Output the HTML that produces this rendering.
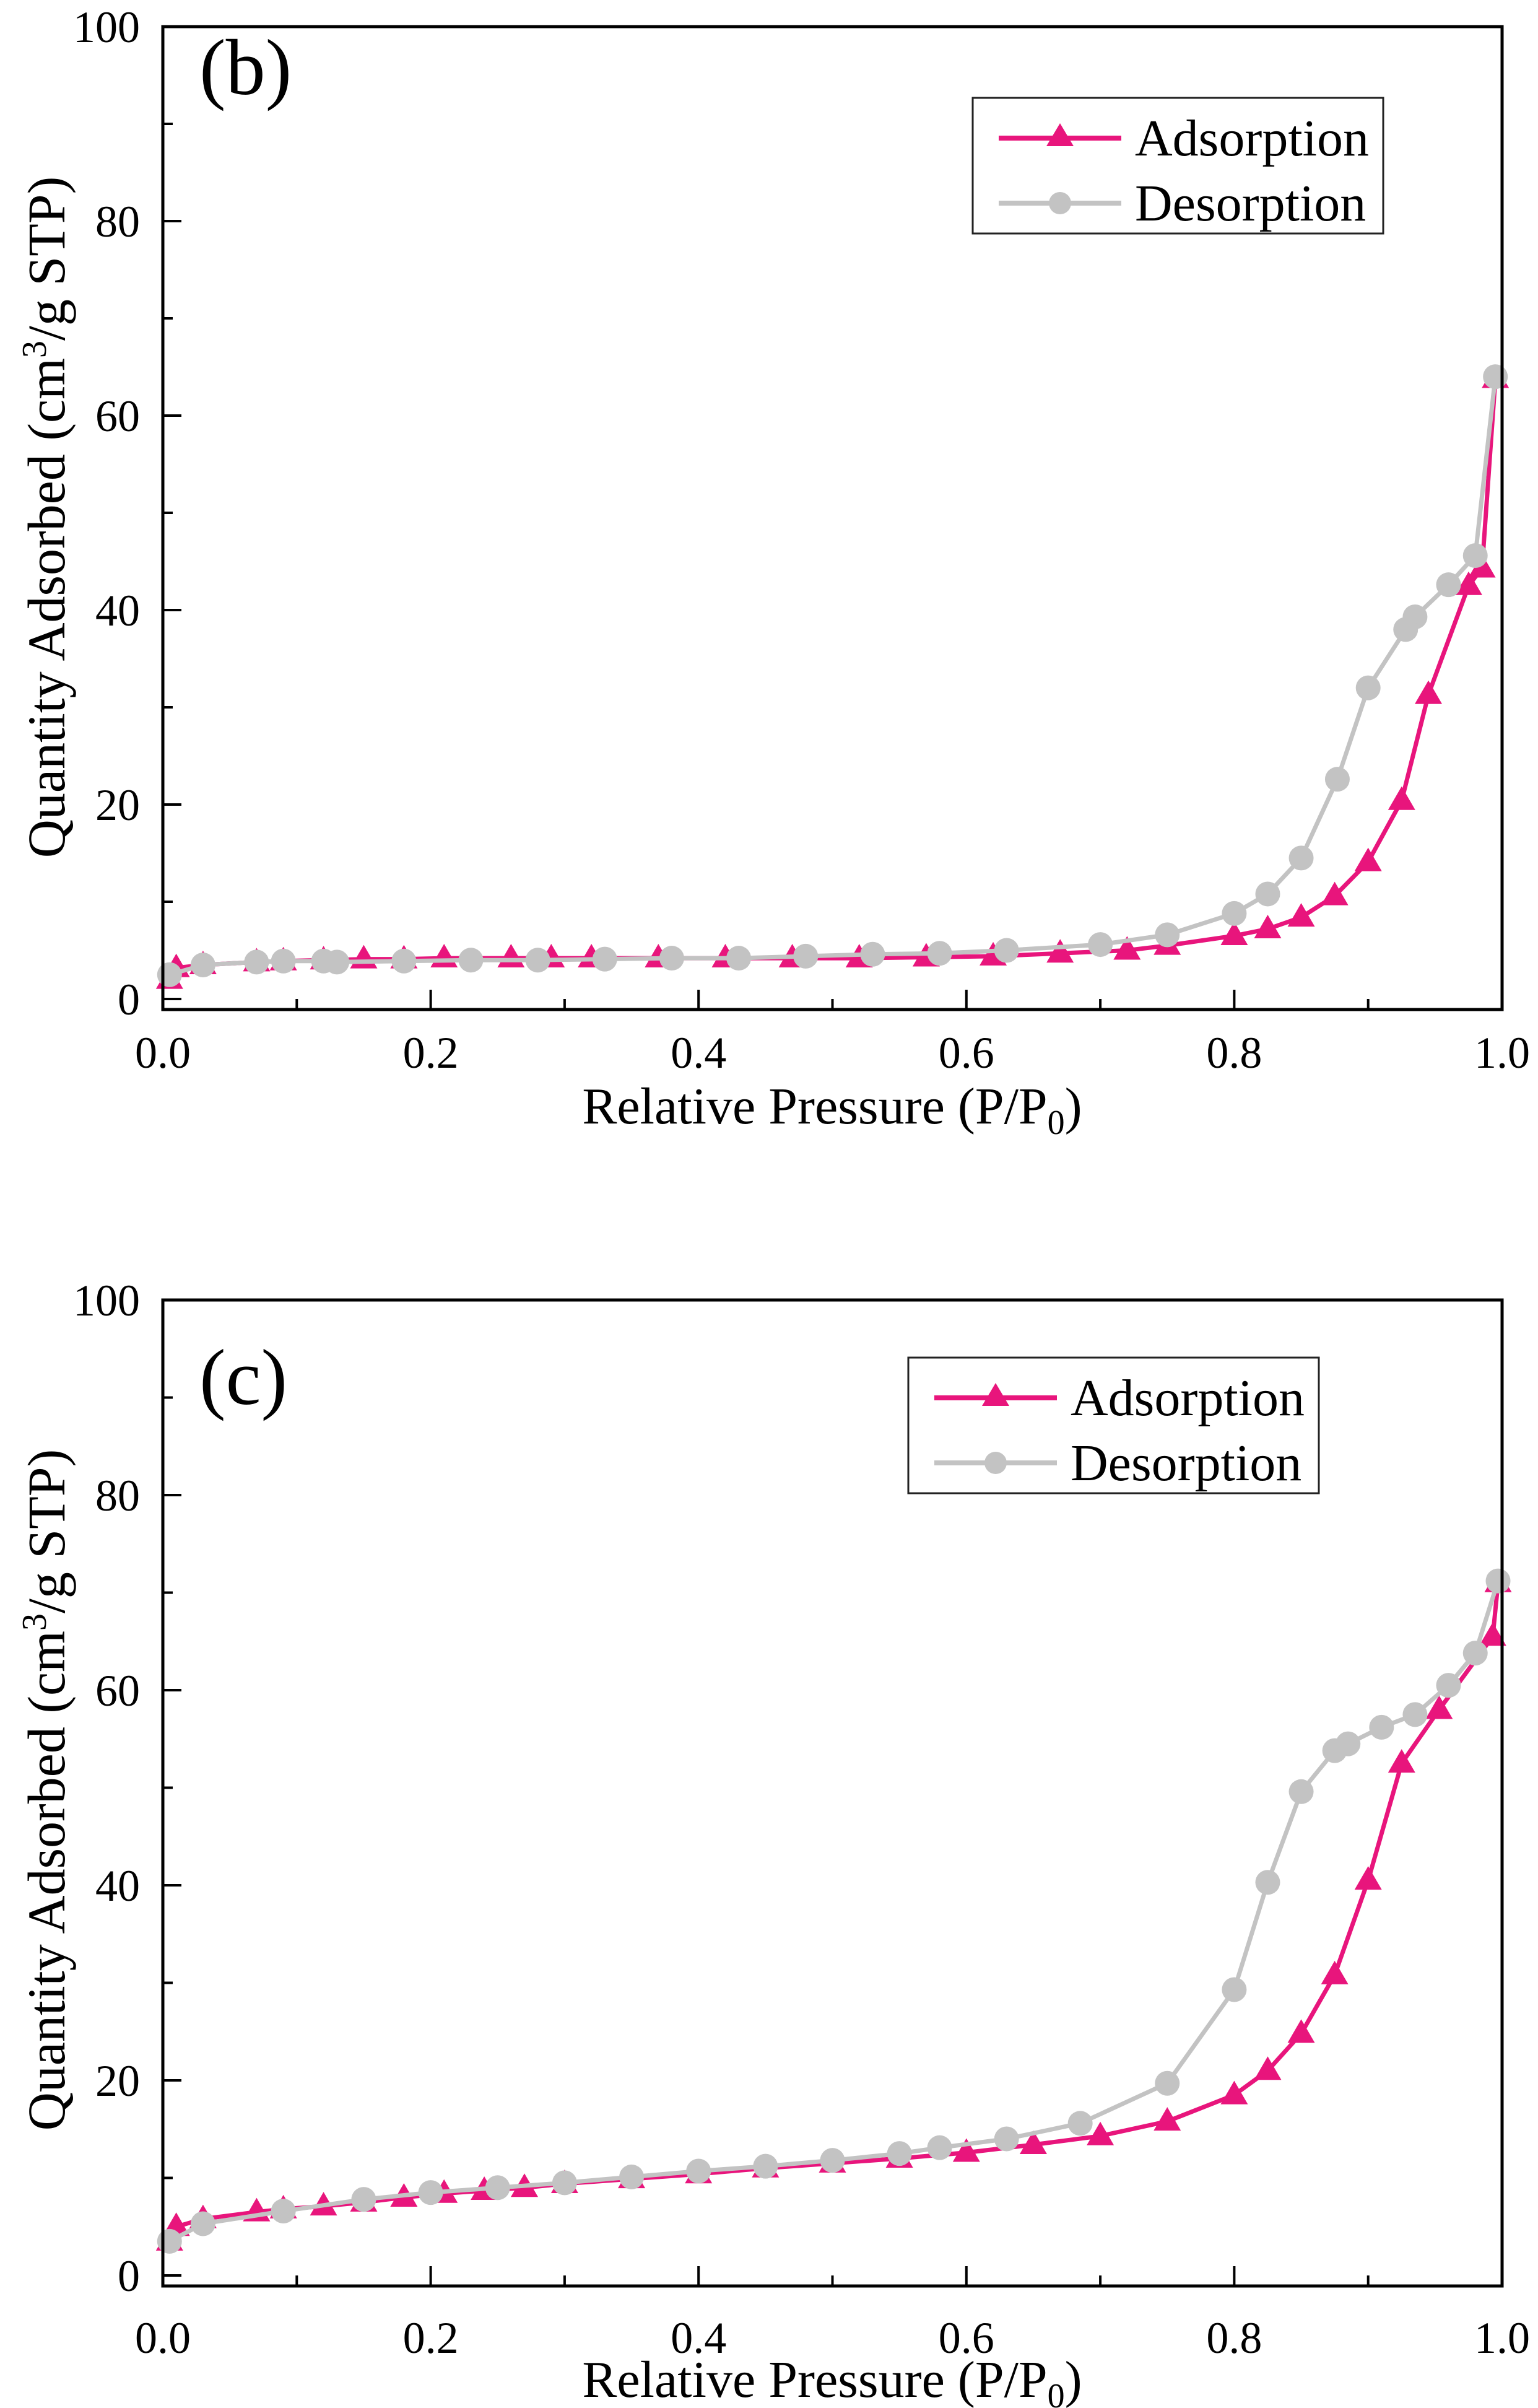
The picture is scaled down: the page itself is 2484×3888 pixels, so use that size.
<!DOCTYPE html>
<html><head><meta charset="utf-8"><style>
html,body{margin:0;padding:0;background:#fff;}
svg{display:block;font-family:"Liberation Serif",serif;}
</style></head><body>
<svg id="fig" width="2484" height="3888" viewBox="0 0 2484 3888" xmlns="http://www.w3.org/2000/svg"></svg>
<script>
// Panel (b) data
const bAdsX = [0.005,0.01,0.03,0.07,0.09,0.12,0.15,0.18,0.21,0.26,0.29,0.32,0.37,0.42,0.47,0.52,0.57,0.62,0.67,0.72,0.75,0.80,0.825,0.85,0.875,0.90,0.925,0.945,0.975,0.985,0.995];
const bAdsY = [2.0,3.2,3.5,3.8,3.9,4.0,4.1,4.1,4.2,4.2,4.2,4.2,4.2,4.2,4.2,4.2,4.3,4.4,4.7,5.0,5.5,6.5,7.2,8.4,10.6,14.1,20.4,31.3,42.5,44.3,63.8];
const bDesX = [0.995,0.98,0.96,0.935,0.928,0.90,0.877,0.85,0.825,0.80,0.75,0.70,0.63,0.58,0.53,0.48,0.43,0.38,0.33,0.28,0.23,0.18,0.13,0.12,0.09,0.07,0.03,0.005];
const bDesY = [64.0,45.6,42.6,39.3,38.0,32.0,22.6,14.5,10.8,8.8,6.6,5.6,5.0,4.7,4.6,4.4,4.2,4.2,4.1,4.0,4.0,3.9,3.8,3.9,3.9,3.8,3.5,2.5];
// Panel (c) data
const cAdsX = [0.005,0.01,0.03,0.07,0.09,0.12,0.15,0.18,0.21,0.24,0.27,0.30,0.35,0.40,0.45,0.50,0.55,0.60,0.65,0.70,0.75,0.80,0.825,0.85,0.875,0.90,0.925,0.953,0.993,0.997];
const cAdsY = [3.5,5.0,5.8,6.5,6.8,7.1,7.5,8.0,8.4,8.7,9.0,9.4,9.9,10.4,11.0,11.5,12.0,12.6,13.4,14.3,15.8,18.5,21.0,24.8,30.8,40.5,52.5,58.0,65.5,71.0];
const cDesX = [0.997,0.98,0.96,0.935,0.91,0.885,0.875,0.85,0.825,0.80,0.75,0.685,0.63,0.58,0.55,0.50,0.45,0.40,0.35,0.30,0.25,0.20,0.15,0.09,0.03,0.005];
const cDesY = [71.2,63.8,60.5,57.5,56.2,54.5,53.8,49.6,40.3,29.3,19.7,15.6,14.0,13.1,12.5,11.8,11.2,10.7,10.1,9.5,9.0,8.5,7.8,6.6,5.3,3.5];
const xTickLabels = ["0.0","0.2","0.4","0.6","0.8","1.0"];
const yTickLabels = ["0","20","40","60","80","100"];

const NS="http://www.w3.org/2000/svg";
const svg=document.getElementById('fig');
function mk(tag,attrs,parent){const e=document.createElementNS(NS,tag);for(const k in attrs)e.setAttribute(k,attrs[k]);(parent||svg).appendChild(e);return e;}
const PINK="#e8157c", GRAY="#c3c3c3";

function panel(key,label,top,y0pix,bottom,ax,ay,dx,dy,legX,legY,labY,xlabY,xtitY,ytitY){
  const L=263,R=2426;
  const g=mk('g',{});
  
  
  const sx=v=>L+v*(R-L);
  const sy=v=>y0pix-v*(y0pix-top)/100;
  function series(xs,ys,color,name,marker){
    const sg=mk('g',{},g);
    
    
    const pts=xs.map((x,i)=>sx(x).toFixed(1)+','+sy(ys[i]).toFixed(1)).join(' ');
    const pl=mk('polyline',{points:pts,fill:'none',stroke:color,'stroke-width':7,'stroke-linejoin':'round'},sg);
    
    
    xs.forEach((x,i)=>{
      const cx=sx(x),cy=sy(ys[i]);let m;
      if(marker==='tri'){m=mk('polygon',{points:`${cx},${cy-23} ${cx-22},${cy+15} ${cx+22},${cy+15}`,fill:color},sg);}
      else{m=mk('circle',{cx:cx,cy:cy,r:20,fill:color},sg);}
      
      
    });
  }
  series(ax,ay,PINK,'adsorption-series-'+key,'tri');
  series(dx,dy,GRAY,'desorption-series-'+key,'circ');
  const fr=mk('rect',{x:L,y:top,width:R-L,height:bottom-top,fill:'none',stroke:'#000','stroke-width':5},g);
  
  
  for(let i=0;i<=10;i++){
    const x=sx(i/10),len=(i%2===0)?32:17;
    const t=mk('line',{x1:x,y1:bottom,x2:x,y2:bottom-len,stroke:'#000','stroke-width':4},g);
    
    
  }
  xTickLabels.forEach((s,i)=>{
    const t=mk('text',{x:sx(i*0.2),y:xlabY,'font-size':72,'text-anchor':'middle'},g);
    t.textContent=s;
    
    
  });
  for(let i=0;i<=10;i++){
    const y=sy(i*10),len=(i%2===0)?30:16;
    const t=mk('line',{x1:L,y1:y,x2:L+len,y2:y,stroke:'#000','stroke-width':4},g);
    
    
  }
  yTickLabels.forEach((s,i)=>{
    const t=mk('text',{x:226,y:sy(i*20)+25,'font-size':72,'text-anchor':'end'},g);
    t.textContent=s;
    
    
  });
  const xt=mk('text',{x:1344,y:xtitY,'font-size':84,'text-anchor':'middle'},g);
  xt.innerHTML='Relative Pressure (P/P<tspan font-size="56" dy="17">0</tspan><tspan dy="-17">)</tspan>';
  
  
  const yt=mk('text',{x:0,y:0,'font-size':86,'text-anchor':'middle',transform:`translate(104,${ytitY}) rotate(-90)`},g);
  yt.innerHTML='Quantity Adsorbed (cm<tspan font-size="56" dy="-30">3</tspan><tspan dy="30">/g STP)</tspan>';
  
  
  const pl=mk('text',{x:322,y:labY,'font-size':128},g);
  pl.textContent=label;
  
  
  const lg=mk('g',{},g);
  
  
  mk('rect',{x:legX,y:legY,width:663,height:219,fill:'#fff',stroke:'#222','stroke-width':3},lg);
  const e1=mk('g',{},lg);
  
  
  mk('line',{x1:legX+42,y1:legY+65,x2:legX+240,y2:legY+65,stroke:PINK,'stroke-width':8},e1);
  const cx1=legX+141,cy1=legY+65;
  mk('polygon',{points:`${cx1},${cy1-24} ${cx1-22},${cy1+13} ${cx1+22},${cy1+13}`,fill:PINK},e1);
  const t1=mk('text',{x:legX+262,y:legY+93,'font-size':84},e1);t1.textContent='Adsorption';
  const e2=mk('g',{},lg);
  
  
  mk('line',{x1:legX+42,y1:legY+170,x2:legX+240,y2:legY+170,stroke:GRAY,'stroke-width':8},e2);
  mk('circle',{cx:legX+141,cy:legY+170,r:18,fill:GRAY},e2);
  const t2=mk('text',{x:legX+262,y:legY+198,'font-size':84},e2);t2.textContent='Desorption';
}
panel('b','(b)',43,1613,1630,bAdsX,bAdsY,bDesX,bDesY,1571,158,152,1724,1814,835);
panel('c','(c)',2099,3674,3691,cAdsX,cAdsY,cDesX,cDesY,1467,2192,2267,3799,3870,2890);
</script>
</body></html>
